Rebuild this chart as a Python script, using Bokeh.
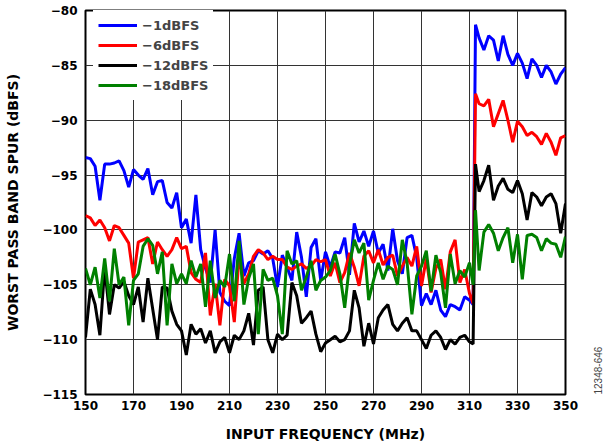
from bokeh.plotting import figure
from bokeh.models import FixedTicker, LinearAxis
from bokeh.embed import file_html
from bokeh.resources import INLINE
from math import pi

freq = [150, 152, 154, 156, 158, 160, 162, 164, 166, 168, 170, 172, 174, 176, 178, 180,
        182, 184, 186, 188, 190, 192, 194, 196, 198, 200, 202, 204, 206, 208, 210, 212,
        214, 216, 218, 220, 222, 224, 226, 228, 230, 232, 234, 236, 238, 240, 242, 244,
        246, 248, 250, 252, 254, 256, 258, 260, 262, 264, 266, 268, 270, 272, 274, 276,
        278, 280, 282, 284, 286, 288, 290, 292, 294, 296, 298, 300, 302, 304, 306, 308,
        310, 311.5, 312.5, 314, 316, 318, 320, 322, 324, 326, 328, 330, 332, 334, 336,
        338, 340, 342, 344, 346, 348, 350]

spur_m1 = [-93.4, -93.5, -94.2, -97.3, -94.0, -94.0, -93.9, -93.7, -94.6, -96.1, -94.5, -95.0,
           -95.4, -94.4, -96.8, -95.6, -95.5, -97.5, -98.0, -96.6, -99.8, -99.0, -101.2, -96.8,
           -101.8, -103.5, -104.8, -100.0, -105.7, -106.5, -106.9, -102.6, -100.3, -104.2,
           -103.0, -102.8, -101.9, -102.2, -101.9, -102.6, -105.2, -102.3, -103.4, -104.6,
           -100.2, -102.5, -106.1, -101.6, -100.8, -104.6, -102.0, -103.4, -102.0, -102.1,
           -100.7, -104.1, -99.4, -101.1, -100.1, -101.5, -100.1, -102.1, -101.3, -103.7,
           -99.9, -102.8, -104.0, -100.7, -100.5, -102.5, -106.9, -105.8, -106.8, -105.5,
           -107.3, -107.9, -106.8, -107.0, -107.3, -106.1, -106.4, -106.8, -81.3, -82.5,
           -83.6, -82.3, -82.7, -84.6, -82.3, -84.0, -85.0, -83.9, -84.8, -86.2, -84.4,
           -85.0, -86.1, -85.0, -85.6, -86.7, -85.8, -85.2]

spur_m6 = [-98.7, -98.9, -99.6, -99.1, -99.8, -101.0, -99.6, -99.8, -100.5, -101.2, -104.4,
           -101.1, -100.9, -100.7, -103.1, -101.1, -101.8, -102.4, -101.8, -100.7, -101.7,
           -101.5, -103.9, -104.5, -104.8, -102.1, -107.8, -104.9, -108.7, -104.5, -105.1,
           -108.4, -102.4, -104.9, -104.0, -102.4, -101.8, -102.1, -102.7, -102.4, -102.7,
           -102.7, -103.4, -103.6, -103.3, -103.1, -103.5, -103.3, -102.7, -102.9, -102.7,
           -104.2, -103.0, -104.8, -103.9, -102.1, -103.4, -105.1, -102.4, -101.9, -103.0,
           -101.8, -103.2, -102.5, -102.3, -104.2, -103.3, -102.5, -103.3, -101.5, -105.1,
           -102.6, -105.7, -103.5, -102.7, -105.4, -102.0, -100.9, -104.8, -103.6, -105.8,
           -106.7, -87.6, -88.5, -88.7, -88.1, -90.6, -89.4, -88.2, -90.0, -92.0, -90.1,
           -90.6, -91.4, -91.1, -91.5, -92.2, -91.2, -92.0, -93.2, -91.6, -91.4]

spur_m12 = [-109.8, -105.4, -106.8, -109.6, -103.4, -107.7, -105.0, -105.3, -104.7, -106.0,
            -106.8, -105.2, -108.4, -104.4, -107.2, -110.0, -105.2, -105.3, -107.4, -108.6,
            -109.2, -111.4, -108.6, -109.5, -109.0, -110.3, -109.2, -111.2, -110.2, -109.8,
            -111.2, -109.6, -110.0, -109.2, -107.6, -110.5, -105.5, -105.2, -110.0, -111.2,
            -109.5, -110.0, -109.6, -104.8, -106.0, -108.5, -108.0, -107.4, -109.5, -111.1,
            -110.3, -110.0, -109.7, -110.2, -110.0, -109.2, -105.5, -107.1, -110.6, -108.5,
            -110.4, -108.0, -107.3, -106.8, -108.6, -109.2, -108.5, -108.0, -109.2, -109.2,
            -110.0, -110.8, -109.6, -109.2, -109.8, -110.9, -110.0, -110.4, -109.8, -109.6,
            -110.2, -110.4, -94.0, -96.5, -95.5, -94.1, -97.3, -96.0, -95.3, -96.3, -96.6,
            -95.5, -96.7, -99.1, -96.6, -97.0, -97.8, -97.0, -96.7, -97.6, -100.3, -97.6]

spur_m18 = [-103.5, -105.0, -103.4, -106.2, -102.6, -106.5, -101.7, -105.0, -104.3, -108.7,
            -104.6, -104.0, -101.5, -100.8, -101.4, -104.0, -102.0, -108.7, -103.1, -104.9,
            -104.0, -104.9, -102.8, -104.3, -103.1, -107.0, -102.8, -106.2, -104.6, -105.2,
            -102.2, -106.5, -101.0, -106.8, -104.4, -103.1, -109.5, -103.6, -104.6, -104.4,
            -106.0, -109.5, -101.9, -103.1, -102.8, -105.5, -104.3, -102.8, -105.5, -104.6,
            -104.3, -103.7, -102.2, -104.0, -107.1, -103.2, -100.9, -102.1, -101.2, -106.4,
            -104.6, -103.0, -104.5, -103.3, -103.6, -105.0, -100.9, -103.0, -107.7, -104.2,
            -103.3, -101.9, -105.6, -102.3, -103.9, -107.1, -102.2, -104.9, -103.7, -104.3,
            -103.0, -105.0, -98.2, -103.7, -100.2, -99.5, -100.3, -101.9, -100.7, -99.8,
            -103.0, -100.4, -104.5, -100.5, -100.4, -100.7, -101.9, -100.8, -101.2, -101.3,
            -102.5, -100.6]

series_labels = ["\u22121dBFS", "\u22126dBFS", "\u221212dBFS", "\u221218dBFS"]
series_colors = ["#0000FF", "#FF0000", "#000000", "#008000"]

x_ticks = [150, 170, 190, 210, 230, 250, 270, 290, 310, 330, 350]
y_ticks = [-115, -110, -105, -100, -95, -90, -85, -80]
y_tick_labels = ["\u2212115", "\u2212110", "\u2212105", "\u2212100", "\u221295", "\u221290",
                 "\u221285", "\u221280"]
figure_id = "12348-646"

FONT = "DejaVu Sans"
FRAME_H = 384

p = figure(frame_width=480, frame_height=FRAME_H, min_border_left=85, min_border_right=49,
           min_border_top=10, min_border_bottom=54, x_range=(150, 350), y_range=(-115, -80),
           output_backend="svg", toolbar_location=None)

for ys, lab, col in zip([spur_m1, spur_m6, spur_m12, spur_m18], series_labels, series_colors):
    p.line(freq, ys, line_color=col, line_width=3, legend_label=lab)

p.xaxis.ticker = FixedTicker(ticks=x_ticks)
p.yaxis.ticker = FixedTicker(ticks=y_ticks)
p.yaxis.major_label_overrides = {t: s for t, s in zip(y_ticks, y_tick_labels)}

for ax in (p.xaxis[0], p.yaxis[0]):
    ax.axis_line_color = None
    ax.major_tick_line_color = None
    ax.minor_tick_line_color = None
    ax.major_tick_out = 0
    ax.major_tick_in = 0
    ax.minor_tick_out = 0
    ax.minor_tick_in = 0
    ax.major_label_text_font = FONT
    ax.major_label_text_font_style = "bold"
    ax.major_label_text_font_size = "12px"
    ax.major_label_text_color = "black"
    ax.axis_label_text_font = FONT
    ax.axis_label_text_font_style = "bold"
    ax.axis_label_text_font_size = "14px"
    ax.axis_label_text_color = "black"

p.xaxis.axis_label = "INPUT FREQUENCY (MHz)"
p.yaxis.axis_label = "WORST PASS BAND SPUR (dBFS)"
p.xaxis.major_label_standoff = 6
p.xaxis.axis_label_standoff = 13
p.yaxis.major_label_standoff = 8
p.yaxis.axis_label_standoff = 18

# side axis used only to carry the figure id, rotated like the reference
id_axis = LinearAxis(ticker=FixedTicker(ticks=[-115]), major_label_overrides={-115: figure_id},
                     major_label_orientation=pi / 2, axis_line_color=None,
                     major_tick_line_color=None, minor_tick_line_color=None,
                     major_tick_out=0, major_tick_in=0, minor_tick_out=0, minor_tick_in=0,
                     major_label_standoff=32, major_label_text_font="Liberation Sans",
                     major_label_text_font_size="10px", major_label_text_color="#444444")
p.add_layout(id_axis, "right")

p.xgrid.grid_line_color = "#333333"
p.ygrid.grid_line_color = "#333333"
p.xgrid.grid_line_width = 1
p.ygrid.grid_line_width = 1

p.outline_line_color = "black"
p.outline_line_width = 2
p.background_fill_color = "white"
p.border_fill_color = "white"

lg = p.legend[0]
lg.location = (8, FRAME_H - 90)
lg.padding = 5
lg.margin = 0
lg.spacing = 0
lg.label_height = 20
lg.glyph_height = 20
lg.glyph_width = 39
lg.label_standoff = 5
lg.border_line_alpha = 0
lg.background_fill_color = "white"
lg.background_fill_alpha = 1
lg.label_text_font = FONT
lg.label_text_font_style = "bold"
lg.label_text_font_size = "13px"

open("out.html", "w").write(file_html(p, INLINE))
